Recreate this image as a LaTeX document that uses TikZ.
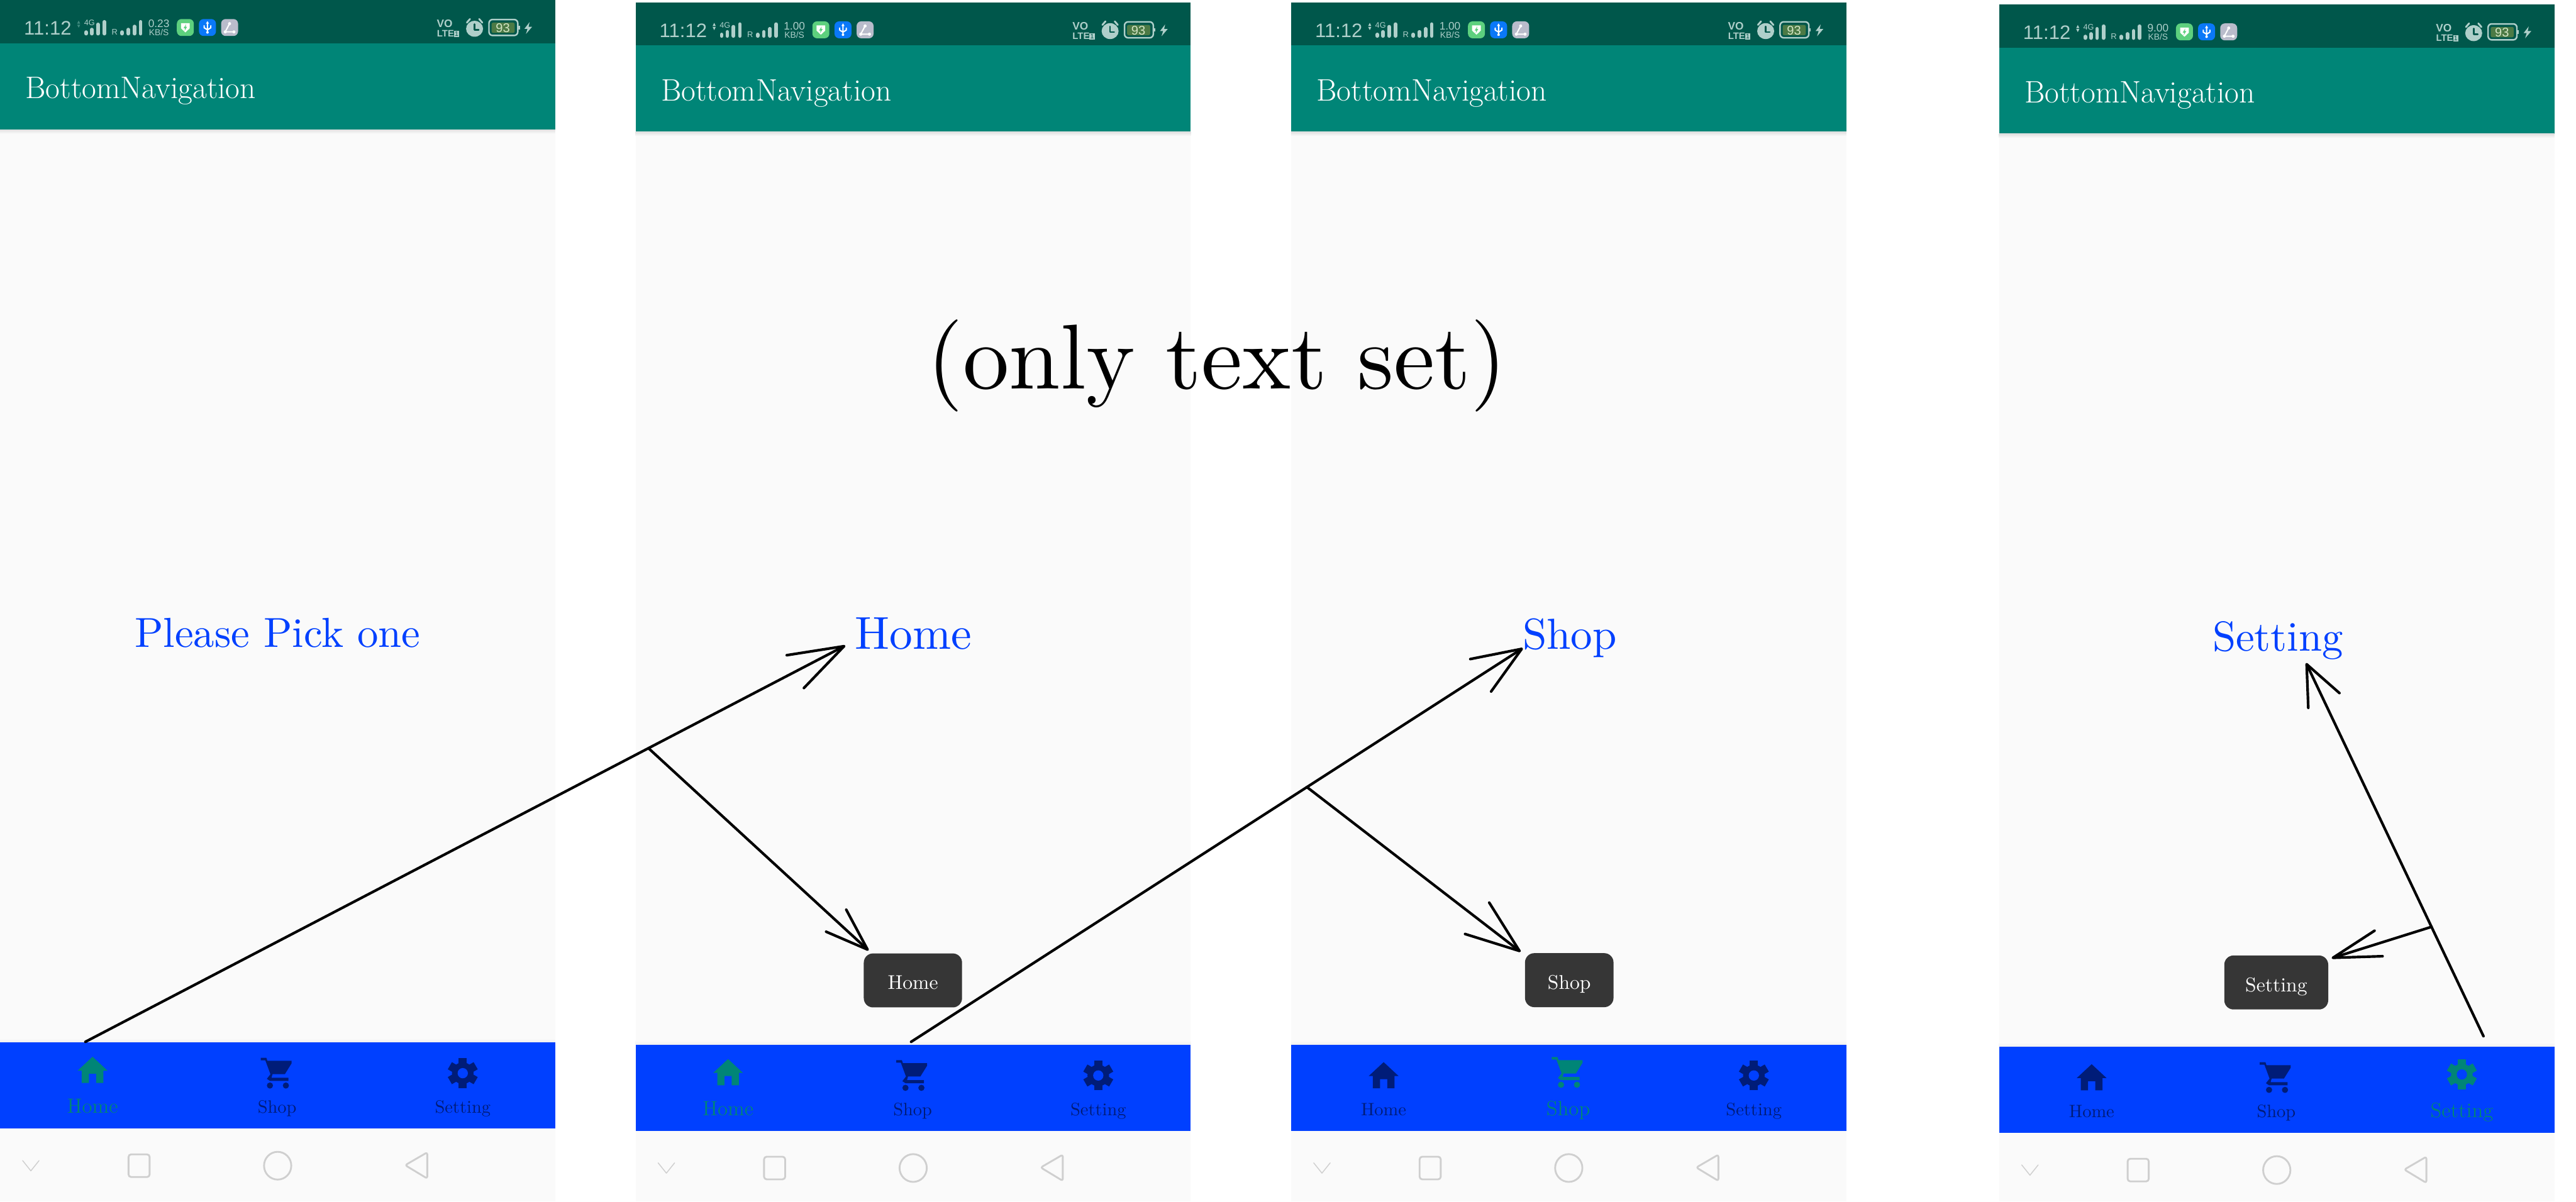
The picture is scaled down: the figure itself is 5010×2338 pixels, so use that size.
\documentclass[tikz,border=0pt]{standalone}
\usepackage{fontspec}
\usetikzlibrary{arrows.meta}
\newfontfamily\statusfont{Liberation Sans}
\newfontfamily\labelfont{lmroman10-regular}[Extension=.otf]
\definecolor{statusbar}{HTML}{00574B}
\definecolor{appbar}{HTML}{008577}
\definecolor{screenbg}{HTML}{FAFAFA}
\definecolor{bluebar}{HTML}{0040FF}
\definecolor{navdark}{HTML}{001C78}
\definecolor{statusfg}{HTML}{AFCFCA}
\definecolor{statusdim}{HTML}{3F8A7E}
\definecolor{softkey}{HTML}{CFCFCF}
\definecolor{toastbg}{HTML}{363636}
\definecolor{shieldicon}{HTML}{5DD07E}
\definecolor{usbicon}{HTML}{0A78F8}
\definecolor{shareicon}{HTML}{B9BCCB}
\definecolor{batteryfill}{HTML}{4C7A45}
\definecolor{batterytext}{HTML}{D2E4C4}
\newcommand{\sizefont}[1]{\fontsize{#1}{#1}\selectfont}
\newcommand{\homeglyph}{
\fill[navink] (0,4)--(29,31)--(21,31)--(21,55)--(7,55)--(7,37)--(-7,37)--(-7,55)--(-21,55)--(-21,31)--(-29,31)--cycle;
}
\newcommand{\cartglyph}{
\fill[navink] (-32,0)--(-21,0)--(-19,6)--(28,6)--(28,11)--(15,32)--(-9,32)--(-11,39)--(22,39)--(22,45)--(-14,45)--(-20,41)--(-13,32)--(-23,5)--(-32,5)--cycle;
\fill[navink] (-14,54) circle (6);
\fill[navink] (17,54) circle (6);
}
\newcommand{\gearglyph}{
\fill[navink] (0,30) circle (21);
\foreach \toothangle in {0,60,...,300}
  \fill[navink,shift={(0,30)},rotate=\toothangle] (-8,-29) rectangle (8,-17);
\fill[bluebar] (0,30) circle (10);
}
\newcommand{\phonescreen}[6]{
\begin{scope}[shift={(#1,#2)},name prefix=#5-]
\fill[screenbg] (0,0) rectangle (1080,{2338-#2});
\fill[statusbar] (0,0) rectangle (1080,84);
\fill[appbar] (0,84) rectangle (1080,252);
\shade[top color=black!12,bottom color=screenbg] (0,252) rectangle (1080,260);
\shade[top color=screenbg,bottom color=black!6] (0,2020) rectangle (1080,2028);
\fill[bluebar] (0,2028) rectangle (1080,2196);
\node[anchor=base west,inner sep=0,text=white,font=\sizefont{17.2}] (title) at (49,192) {BottomNavigation};
\node[statustext,anchor=base west,font=\statusfont\sizefont{10.8}] (clock) at (46,68) {11:12};
\fill[#6] (150,46)--(153,40)--(156,46)--cycle (150,48)--(156,48)--(153,54)--cycle;
\node[statustext,font=\statusfont\sizefont{4.4}] (fourg) at (174,50) {4G};
\foreach \barx/\bartop in {167.5/59,178.5/54,190.5/44,203/39,237.5/59,249.5/54,261.5/48,273.5/39}
  \draw[statusfg,line width=.07cm] (\barx,65.5)--(\barx,\bartop+3.5);
\node[statustext,font=\statusfont\sizefont{4.5}] (roaming) at (223,68) {R};
\node[statustext,font=\statusfont\sizefont{6}] (speed) at (309,53) {#3};
\node[statustext,font=\statusfont\sizefont{4.8}] (speedunit) at (309,69) {KB/S};
\fill[shieldicon,rounded corners=.09cm] (344,37) rectangle (377,70);
\fill[white] (352,45)--(369,45)--(369,55)--(360.5,63)--(352,55)--cycle;
\fill[shieldicon] (362,47)--(357,55)--(360,55)--(359,60)--(364,52)--(361,52)--cycle;
\fill[usbicon,rounded corners=.09cm] (387,37) rectangle (420,70);
\draw[white,line width=.025cm] (403.5,44)--(403.5,63) (397,50)--(397,54)--(403.5,58)--(410,54)--(410,50);
\fill[white] (403.5,41)--(406.5,46)--(400.5,46)--cycle (403.5,63) circle (2.5);
\fill[shareicon,rounded corners=.09cm] (430,37) rectangle (463,70);
\draw[white,line width=.025cm] (446.5,46)--(438,62)--(455,62);
\fill[white] (446.5,46) circle (3) (438,62) circle (3) (455,62) circle (3);
\node[statustext,font=\statusfont\bfseries\sizefont{6}] (volte) at (865,53) {VO};
\node[statustext,font=\statusfont\bfseries\sizefont{5.2}] (lte) at (866.5,72) {LTE};
\fill[statusfg] (883,60) rectangle (893,72);
\node[inner sep=0,anchor=base,text=statusbar,font=\statusfont\sizefont{3.6}] (simnumber) at (888,70.5) {1};
\fill[statusfg] (923,56) ellipse (16.5 and 15.5);
\draw[statusbar,line width=.03cm] (923,47)--(923,58)--(931,58);
\draw[statusfg,line width=.035cm] (908,44)--(914,37) (938,44)--(932,37);
\draw[statusfg,line width=.03cm,rounded corners=.07cm] (951,38) rectangle (1007,69);
\fill[statusfg] (1008,50) rectangle (1011,57);
\fill[batteryfill,rounded corners=.03cm] (956,44) rectangle (1001,64);
\node[inner sep=0,anchor=base,text=batterytext,font=\statusfont\sizefont{7}] (battery) at (978,63) {93};
\fill[statusfg] (1030,43)--(1020,56)--(1026,56)--(1023,66)--(1035,52)--(1028,52)--cycle;
\foreach \navglyph/\navx/\navtext/\navnum in {\homeglyph/180/Home/1,\cartglyph/539/Shop/2,\gearglyph/900/Setting/3}{
  \ifnum\navnum=#4
    \colorlet{navink}{appbar}\def\navtop{2052}\def\navsize{11.4}
  \else
    \colorlet{navink}{navdark}\def\navtop{2058}\def\navsize{9.9}
  \fi
  \begin{scope}[shift={(\navx,\navtop)}]
  \navglyph
  \end{scope}
  \node[anchor=base,inner sep=0,text=navink,font=\sizefont{\navsize}] (navtext\navnum) at (\navx,2166) {\navtext};
}
\draw[softkey,line width=.018cm] (44,2258)--(60,2278)--(76,2258);
\draw[softkey,line width=.035cm,rounded corners=.05cm] (250,2246) rectangle (291,2290);
\draw[softkey,line width=.035cm] (540,2268) ellipse (26.5 and 27);
\draw[softkey,line width=.035cm,rounded corners=.04cm] (831,2242)--(788,2267)--(831,2293)--cycle;
\end{scope}
}
\begin{document}
\begin{tikzpicture}[x=.01cm,y=-.01cm,line join=round,line cap=round]
\tikzset{
statustext/.style={inner sep=0,anchor=base,text=statusfg},
bluetext/.style={inner sep=0,anchor=base,text=bluebar,font=\labelfont\sizefont{24}},
toastbox/.style={fill=toastbg,text=white,inner xsep=0,inner ysep=0,rounded corners=.18cm,minimum height=1.05cm,text height=.35cm,text depth=0cm,font=\labelfont\sizefont{11}},
handline/.style 2 args={line width=1.45pt,-{Straight Barb[length=#1cm,width=#2cm,round]}}
}
\useasboundingbox (0,0) rectangle (5010,2338);
\phonescreen{0}{0}{0.23}{1}{pick}{statusdim}
\phonescreen{1236}{4.5}{1.00}{1}{home}{statusfg}
\phonescreen{2511}{4.5}{1.00}{2}{shop}{statusfg}
\phonescreen{3888}{8.5}{9.00}{3}{setting}{statusfg}
\node[bluetext,font=\labelfont\sizefont{23.2}] (picktext) at (540,1259) {Please Pick one};
\node[bluetext,font=\labelfont\sizefont{25.5}] (hometext) at (1776,1263) {Home};
\node[bluetext] (shoptext) at (3053,1263) {Shop};
\node[bluetext,font=\labelfont\sizefont{23.2}] (settingtext) at (4430,1267) {Setting};
\node[toastbox,minimum width=1.91cm] (hometoast) at (1775.5,1907.5) {Home};
\node[toastbox,minimum width=1.72cm] (shoptoast) at (3052,1907) {Shop};
\node[toastbox,minimum width=2.02cm] (settingtoast) at (4427,1911.5) {Setting};
\node[inner sep=0,anchor=base,font=\labelfont\sizefont{51}] (onlytext) at (2367,756) {(only text set)};
\coordinate (startone) at (166,2027);
\coordinate (starttwo) at (1772,2027);
\coordinate (startthree) at (4830,2016);
\draw[handline={1.07}{.72}] (startone) -- coordinate[pos=.741] (branchone) ([shift={(-18,-7)}]hometext.base west);
\draw[handline={.83}{.58}] (branchone) -- ([shift={(10,-5)}]hometoast.north west);
\draw[handline={.95}{.75}] (starttwo) -- coordinate[pos=.647] (branchtwo) ([shift={(1,-2)}]shoptext.base west);
\draw[handline={1.04}{.77}] (branchtwo) -- ([shift={(-8,-2)}]shoptoast.north west);
\draw[handline={.78}{.67}] (startthree) -- coordinate[pos=.293] (branchthree) ([shift={(55,23)}]settingtext.base);
\draw[handline={.93}{.52}] (branchthree) -- ([shift={(6,6)}]settingtoast.north east);
\end{tikzpicture}
\end{document}
